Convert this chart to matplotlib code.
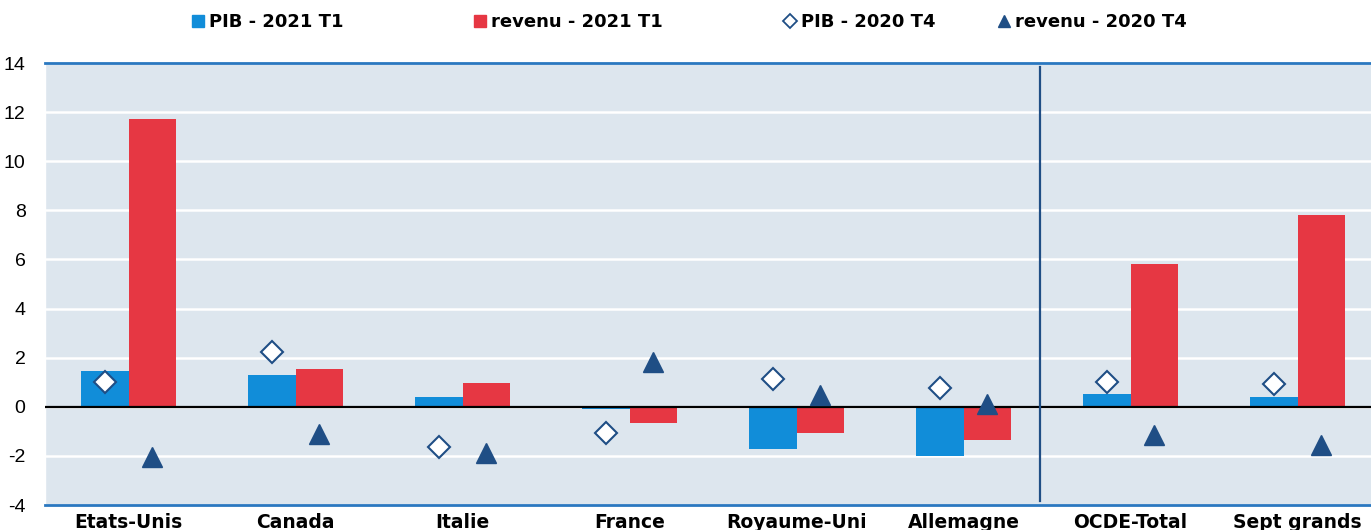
import numpy as np
import matplotlib
matplotlib.use("Agg")
import matplotlib.pyplot as plt
from matplotlib.lines import Line2D

plt.rcParams["axes.unicode_minus"] = False

# donnees
pays = ["Etats-Unis", "Canada", "Italie", "France", "Royaume-Uni",
        "Allemagne", "OCDE-Total", "Sept grands"]
pib_2021_t1 = [1.47, 1.28, 0.41, -0.08, -1.71, -2.00, 0.52, 0.38]
revenu_2021_t1 = [11.73, 1.55, 0.98, -0.65, -1.06, -1.36, 5.83, 7.82]
pib_2020_t4 = [0.99, 2.23, -1.63, -1.06, 1.14, 0.75, 1.00, 0.94]
revenu_2020_t4 = [-2.05, -1.11, -1.90, 1.83, 0.50, 0.12, -1.15, -1.55]
yticks = [-4, -2, 0, 2, 4, 6, 8, 10, 12, 14]

# couleurs
bleu = "#118dd9"
rouge = "#e63743"
fonce = "#1f4e85"
fond = "#dde6ee"

fig = plt.figure(figsize=(13.71, 5.30), dpi=100)
ax = fig.add_axes([45 / 1371, 25 / 530, 1 - 45 / 1371, 442 / 530])
ax.set_facecolor(fond)

x = np.arange(len(pays))
w = 0.285
ax.bar(x - w / 2, pib_2021_t1, w, color=bleu, zorder=3)
ax.bar(x + w / 2, revenu_2021_t1, w, color=rouge, zorder=3)
ax.plot(x - w / 2, pib_2020_t4, linestyle="none", marker="D", markersize=11,
        markerfacecolor="white", markeredgecolor=fonce, markeredgewidth=1.5, zorder=5)
ax.plot(x + w / 2, revenu_2020_t4, linestyle="none", marker="^", markersize=15,
        color=fonce, zorder=5)

ax.axhline(0, color="black", lw=1.6, zorder=4)
ax.axvline(5.46, ymin=0.01, ymax=0.99, color=fonce, lw=1.6, zorder=4)

ax.set_xlim(-0.5, 7.44)
ax.set_ylim(-4, 14)
ax.set_yticks(yticks)
ax.set_xticks(x)
ax.set_xticklabels(pays, fontsize=13.5, fontweight="bold", family="DejaVu Sans")
ax.tick_params(axis="x", length=0, pad=6)
ax.tick_params(axis="y", length=0, pad=14, labelsize=14)
for lab in ax.get_yticklabels():
    lab.set_family("Liberation Sans")

ax.grid(axis="y", color="white", lw=1.8, zorder=1)
ax.set_axisbelow(True)
ax.spines["top"].set_color("#2a78c0")
ax.spines["top"].set_linewidth(2)
ax.spines["bottom"].set_color("#2a78c0")
ax.spines["bottom"].set_linewidth(2)
ax.spines["left"].set_color("white")
ax.spines["left"].set_linewidth(1)
ax.spines["right"].set_visible(False)

# legende
entrees = [
    (Line2D([], [], linestyle="none", marker="s", markersize=9, color=bleu), "PIB - 2021 T1", 190),
    (Line2D([], [], linestyle="none", marker="s", markersize=9, color=rouge), "revenu - 2021 T1", 472),
    (Line2D([], [], linestyle="none", marker="D", markersize=7, markerfacecolor="white",
            markeredgecolor=fonce, markeredgewidth=1.3), "PIB - 2020 T4", 782),
    (Line2D([], [], linestyle="none", marker="^", markersize=9, color=fonce), "revenu - 2020 T4", 996),
]
for h, lab, px in entrees:
    fig.legend([h], [lab], loc="center left", bbox_to_anchor=(px / 1371, 1 - 22 / 530),
               frameon=False, borderpad=0, borderaxespad=0, handlelength=0.9,
               handletextpad=0.15, prop={"weight": "bold", "size": 13, "family": "DejaVu Sans"})

fig.savefig("out.png", dpi=100)
